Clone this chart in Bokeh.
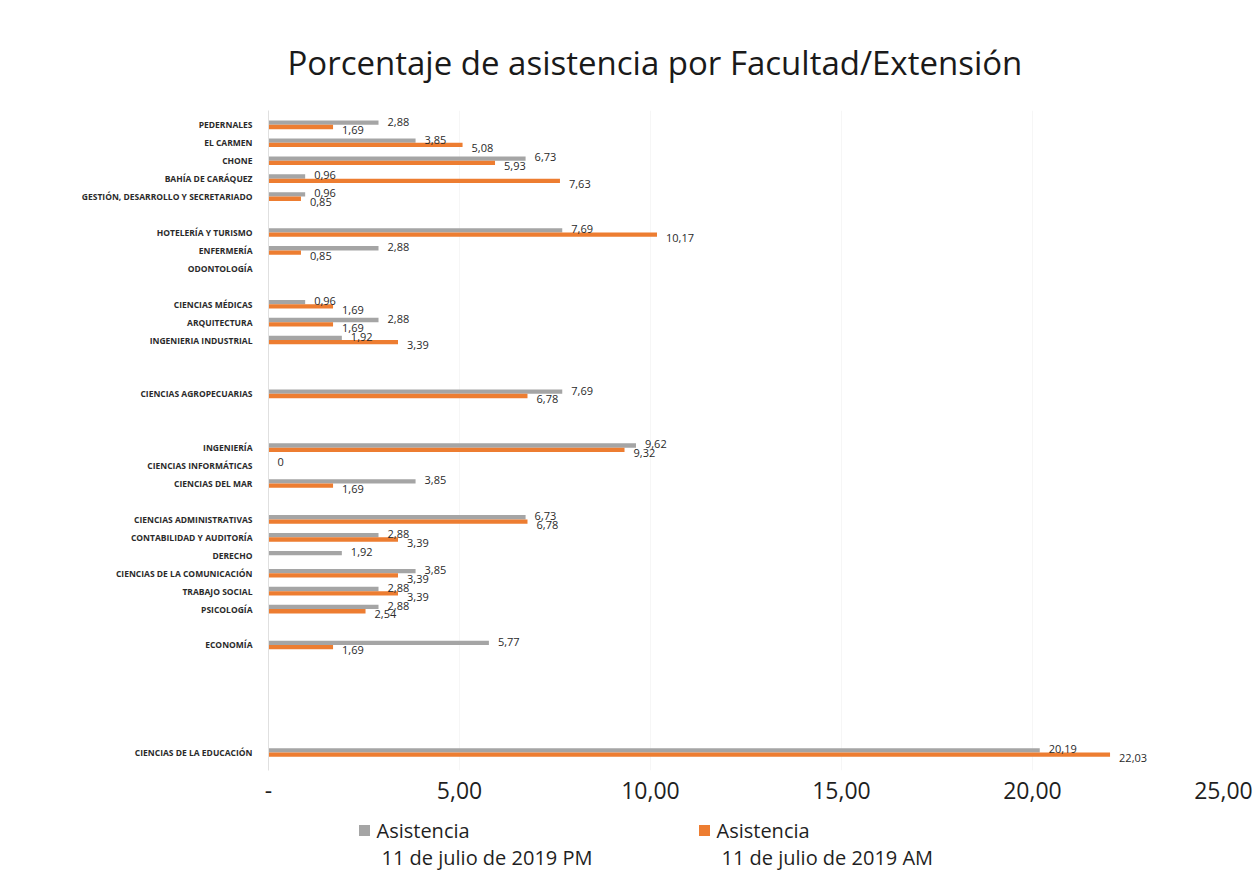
from bokeh.plotting import figure
from bokeh.layouts import column
from bokeh.models import Range1d, FixedTicker, ColumnDataSource
from bokeh.embed import file_html
from bokeh.resources import INLINE
from bokeh.core.properties import value

categories = [
    "PEDERNALES", "EL CARMEN", "CHONE", "BAHÍA DE CARÁQUEZ",
    "GESTIÓN, DESARROLLO Y SECRETARIADO", "",
    "HOTELERÍA Y TURISMO", "ENFERMERÍA", "ODONTOLOGÍA", "",
    "CIENCIAS MÉDICAS", "ARQUITECTURA", "INGENIERIA INDUSTRIAL", "", "",
    "CIENCIAS AGROPECUARIAS", "", "",
    "INGENIERÍA", "CIENCIAS INFORMÁTICAS", "CIENCIAS DEL MAR", "",
    "CIENCIAS ADMINISTRATIVAS", "CONTABILIDAD Y AUDITORÍA", "DERECHO",
    "CIENCIAS DE LA COMUNICACIÓN", "TRABAJO SOCIAL", "PSICOLOGÍA", "",
    "ECONOMÍA", "", "", "", "", "",
    "CIENCIAS DE LA EDUCACIÓN",
]
asistencia_pm = [
    2.88, 3.85, 6.73, 0.96, 0.96, None,
    7.69, 2.88, None, None,
    0.96, 2.88, 1.92, None, None,
    7.69, None, None,
    9.62, 0, 3.85, None,
    6.73, 2.88, 1.92, 3.85, 2.88, 2.88, None,
    5.77, None, None, None, None, None,
    20.19,
]
asistencia_am = [
    1.69, 5.08, 5.93, 7.63, 0.85, None,
    10.17, 0.85, None, None,
    1.69, 1.69, 3.39, None, None,
    6.78, None, None,
    9.32, None, 1.69, None,
    6.78, 3.39, None, 3.39, 3.39, 2.54, None,
    1.69, None, None, None, None, None,
    22.03,
]
x_ticks = [0, 5, 10, 15, 20, 25]
x_tick_labels = ["-", "5,00", "10,00", "15,00", "20,00", "25,00"]
series_title = ["Asistencia", "Asistencia"]
series_date = ["11 de julio de 2019 PM", "11 de julio de 2019 AM"]

GRAY = "#a5a5a5"
ORANGE = "#ed7d31"
FONT = "Open Sans"
TEXT = "#1f1f1f"
W = 1255
FRAME_L, FRAME_R = 268, 1223


def fmt(v):
    return "0" if v == 0 else f"{v:.2f}".replace(".", ",")


def series_source(vals, shift):
    ys, xs, labels = [], [], []
    for i, v in enumerate(vals):
        if v is None:
            continue
        ys.append(i + shift)
        xs.append(v)
        labels.append(fmt(v))
    return ColumnDataSource(dict(y=ys, x=xs, label=labels))


n = len(categories)
p = figure(
    width=W, height=816,
    x_range=Range1d(0, 25), y_range=Range1d(n - 0.0, -0.8),
    output_backend="svg", toolbar_location=None,
    min_border_left=FRAME_L, min_border_right=W - FRAME_R,
    min_border_top=110, min_border_bottom=46,
)
p.outline_line_color = None
p.background_fill_color = "white"
p.border_fill_color = "white"

src_pm = series_source(asistencia_pm, -0.12)
src_am = series_source(asistencia_am, 0.12)
p.hbar(y="y", right="x", left=0, height=0.24, source=src_pm,
       fill_color=GRAY, line_color=None)
p.hbar(y="y", right="x", left=0, height=0.24, source=src_am,
       fill_color=ORANGE, line_color=None)

src_pm_lab = series_source(asistencia_pm, -0.18)
src_am_lab = series_source(asistencia_am, 0.3)
for src in (src_pm_lab, src_am_lab):
    p.text(x="x", y="y", text="label", source=src, x_offset=9,
           text_font=value(FONT), text_font_size="11px", text_color="#2a2a2a",
           text_baseline="middle", text_align="left")

# Title
p.title.text = "Porcentaje de asistencia por Facultad/Extensión"
p.title.text_font = FONT
p.title.text_font_size = "33px"
p.title.text_font_style = "normal"
p.title.text_color = "#1a1a1a"
p.title.align = "left"
p.title.offset = 19
p.title.standoff = 51

# x axis
p.xaxis.ticker = FixedTicker(ticks=x_ticks)
p.xaxis.major_label_overrides = {t: l for t, l in zip(x_ticks, x_tick_labels)}
p.xaxis.axis_line_color = None
p.xaxis.major_tick_line_color = None
p.xaxis.minor_tick_line_color = None
p.xaxis.major_tick_out = 0
p.xaxis.major_label_text_font = FONT
p.xaxis.major_label_text_font_size = "23px"
p.xaxis.major_label_text_color = TEXT
p.xaxis.major_label_standoff = 11

# y axis (categories)
label_idx = [i for i, c in enumerate(categories) if c]
p.yaxis.ticker = FixedTicker(ticks=label_idx)
p.yaxis.major_label_overrides = {i: categories[i] for i in label_idx}
p.yaxis.axis_line_color = "#e0e0e0"
p.yaxis.major_tick_line_color = None
p.yaxis.minor_tick_line_color = None
p.yaxis.major_tick_out = 0
p.yaxis.major_label_text_font = FONT
p.yaxis.major_label_text_font_size = "8.5px"
p.yaxis.major_label_text_font_style = "bold"
p.yaxis.major_label_text_color = "#2a2a2a"
p.yaxis.major_label_standoff = 16

p.xgrid.grid_line_color = "#f6f6f6"
p.ygrid.grid_line_color = None

# Legend strip: x range in page pixels (its frame is aligned with the chart's frame)
LH = 64
lg = figure(
    width=W, height=LH, x_range=Range1d(FRAME_L, FRAME_R), y_range=Range1d(LH, 0),
    output_backend="svg", toolbar_location=None,
    x_axis_location=None, y_axis_location=None,
    min_border_left=FRAME_L, min_border_right=W - FRAME_R, min_border_top=0, min_border_bottom=0,
)
lg.outline_line_color = None
lg.xgrid.grid_line_color = None
lg.ygrid.grid_line_color = None
legend_x = [358, 698]
legend_colors = [GRAY, ORANGE]
lg.rect(x=[x + 6 for x in legend_x], y=[14, 14], width=11, height=11,
        fill_color=legend_colors, line_color=None)
lg.text(x=[x + 18 for x in legend_x], y=[14, 14], text=series_title,
        text_font=value(FONT), text_font_size="20px", text_color=TEXT,
        text_baseline="middle", text_align="left")
lg.text(x=[x + 23 for x in legend_x], y=[41, 41], text=series_date,
        text_font=value(FONT), text_font_size="20px", text_color=TEXT,
        text_baseline="middle", text_align="left")

layout = column(p, lg, spacing=0)
open("out.html", "w").write(file_html(layout, INLINE))
